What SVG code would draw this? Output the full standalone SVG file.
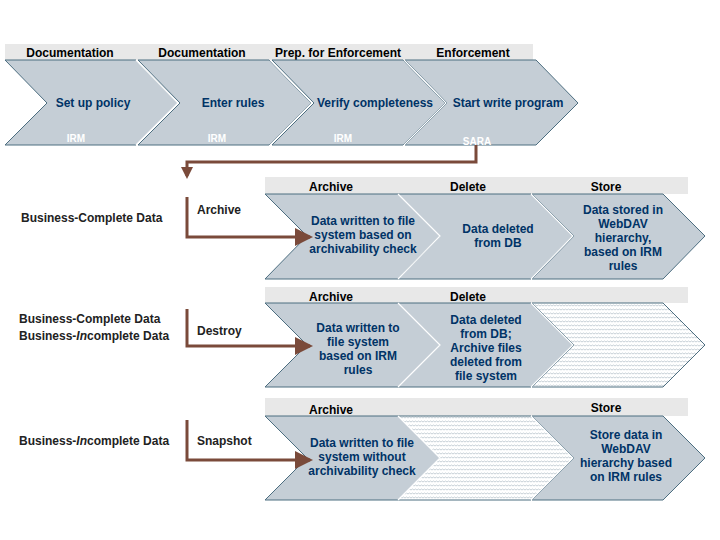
<svg xmlns="http://www.w3.org/2000/svg" width="720" height="540" viewBox="0 0 720 540">
<style>
text{font-family:"Liberation Sans",Arial,sans-serif;font-weight:bold;}
.ch{fill:#c5ced6;stroke:#4d6e80;stroke-width:1;}
.hz{fill:url(#zig);stroke:#4d6e80;stroke-width:1;}
.in{fill:none;stroke:#fff;stroke-width:1.2;}
.hd{fill:#e8e8e8;}
.ht{font-size:12px;fill:#000;text-anchor:middle;}
.t{font-size:12px;fill:#003366;text-anchor:middle;}
.w{font-size:10px;fill:#fff;text-anchor:middle;}
.l{font-size:12px;fill:#222;}
.br{fill:none;stroke:#7a4a3a;stroke-width:3;}
</style>
<defs>
<pattern id="zig" width="6" height="4" patternUnits="userSpaceOnUse">
<rect width="6" height="4" fill="#fff"/>
<polyline points="0,2 1.5,1 3,2 4.5,1 6,2" fill="none" stroke="#b8c4cc" stroke-width="0.8"/>
</pattern>
<marker id="ah" markerWidth="6" markerHeight="6" refX="5" refY="3" orient="auto" markerUnits="strokeWidth"><path d="M0,0 L6,3 L0,6 z" fill="#7a4a3a"/></marker>
<marker id="ah2" markerWidth="4" markerHeight="4" refX="3" refY="2" orient="auto" markerUnits="strokeWidth"><path d="M0,0 L4,2 L0,4 z" fill="#7a4a3a"/></marker>
</defs>

<g id="top">
<rect class="hd" x="5" y="44" width="528" height="16"/>
<text class="ht" x="70" y="57">Documentation</text>
<text class="ht" x="202" y="57">Documentation</text>
<text class="ht" x="338" y="57">Prep. for Enforcement</text>
<text class="ht" x="473" y="57">Enforcement</text>
<g id="t1"><path class="ch" d="M5,60 H136 L178,103 L136,145 H5 L47,103 Z"/><text class="t" x="93" y="107">Set up policy</text><text class="w" x="76" y="142">IRM</text></g>
<g id="t2"><path class="ch" d="M138,60 H269 L311,103 L269,145 H138 L180,103 Z"/><path class="in" d="M136,60 L178,103 L136,145"/><text class="t" x="233" y="107">Enter rules</text><text class="w" x="217" y="142">IRM</text></g>
<g id="t3"><path class="ch" d="M272,60 H403 L445,103 L403,145 H272 L314,103 Z"/><path class="in" d="M270,60 L312,103 L270,145"/><text class="t" x="375" y="107">Verify completeness</text><text class="w" x="343" y="142">IRM</text></g>
<g id="t4"><path class="ch" d="M405,60 H536 L578,103 L536,145 H405 L447,103 Z"/><path class="in" d="M404,60 L446,103 L404,145"/><text class="t" x="508" y="107">Start write program</text><text class="w" x="477" y="145">SARA</text></g>
</g>

<g id="labels">
<text class="l" x="21" y="222">Business-Complete Data</text>
<text class="l" x="19" y="323">Business-Complete Data</text>
<text class="l" x="19" y="340">Business-<tspan font-style="italic">In</tspan>complete Data</text>
<text class="l" x="19" y="445">Business-<tspan font-style="italic">In</tspan>complete Data</text>
<text class="l" x="197" y="214">Archive</text>
<text class="l" x="197" y="335">Destroy</text>
<text class="l" x="197" y="445">Snapshot</text>
</g>

<g id="row1">
<rect class="hd" x="265" y="177" width="423" height="17"/>
<text class="ht" x="331" y="191">Archive</text>
<text class="ht" x="468" y="191">Delete</text>
<text class="ht" x="606" y="191">Store</text>
<path class="ch" d="M265,194 H398 L440,236 L398,279 H265 L307,236 Z"/>
<path class="ch" d="M398,194 H531 L573,236 L531,279 H398 L440,236 Z"/><path class="in" d="M398,194 L440,236 L398,279"/>
<path class="ch" d="M532,194 H663 L705,236 L663,279 H532 L574,236 Z"/><path class="in" d="M531,194 L573,236 L531,279"/>
<text class="t"><tspan x="363" y="225">Data written to file</tspan><tspan x="363" y="239">system based on</tspan><tspan x="363" y="253">archivability check</tspan></text>
<text class="t"><tspan x="498" y="233">Data deleted</tspan><tspan x="498" y="247">from DB</tspan></text>
<text class="t"><tspan x="623" y="214">Data stored in</tspan><tspan x="623" y="228">WebDAV</tspan><tspan x="623" y="242">hierarchy,</tspan><tspan x="623" y="256">based on IRM</tspan><tspan x="623" y="270">rules</tspan></text>
</g>

<g id="row2">
<rect class="hd" x="265" y="287" width="423" height="16"/>
<text class="ht" x="331" y="301">Archive</text>
<text class="ht" x="468" y="301">Delete</text>
<path class="ch" d="M265,303 H398 L440,345 L398,387 H265 L307,345 Z"/>
<path class="ch" d="M398,303 H531 L573,345 L531,387 H398 L440,345 Z"/><path class="in" d="M398,303 L440,345 L398,387"/>
<path class="hz" d="M532,303 H663 L705,345 L663,387 H532 L574,345 Z"/><path class="in" d="M531,303 L573,345 L531,387"/>
<text class="t"><tspan x="358" y="332">Data written to</tspan><tspan x="358" y="346">file system</tspan><tspan x="358" y="360">based on IRM</tspan><tspan x="358" y="374">rules</tspan></text>
<text class="t"><tspan x="486" y="324">Data deleted</tspan><tspan x="486" y="338">from DB;</tspan><tspan x="486" y="352">Archive files</tspan><tspan x="486" y="366">deleted from</tspan><tspan x="486" y="380">file system</tspan></text>
</g>

<g id="row3">
<rect class="hd" x="265" y="398" width="423" height="18"/>
<text class="ht" x="331" y="414">Archive</text>
<text class="ht" x="606" y="412">Store</text>
<path class="ch" d="M265,416 H398 L440,458 L398,500 H265 L307,458 Z"/>
<path class="hz" d="M398,416 H531 L573,458 L531,500 H398 L440,458 Z"/><path class="in" d="M398,416 L440,458 L398,500"/>
<path class="ch" d="M532,416 H663 L705,458 L663,500 H532 L574,458 Z"/><path class="in" d="M531,416 L573,458 L531,500"/>
<text class="t"><tspan x="362" y="447">Data written to file</tspan><tspan x="362" y="461">system without</tspan><tspan x="362" y="475">archivability check</tspan></text>
<text class="t"><tspan x="626" y="439">Store data in</tspan><tspan x="626" y="453">WebDAV</tspan><tspan x="626" y="467">hierarchy based</tspan><tspan x="626" y="481">on IRM  rules</tspan></text>
</g>

<g id="connectors">
<path class="br" stroke-width="2" d="M476,145 V162 H187 V176" marker-end="url(#ah2)"/>
<path class="br" d="M187,197 V237 H310" marker-end="url(#ah)"/>
<path class="br" d="M187,309 V346 H310" marker-end="url(#ah)"/>
<path class="br" d="M187,420 V460 H310" marker-end="url(#ah)"/>
</g>
</svg>
